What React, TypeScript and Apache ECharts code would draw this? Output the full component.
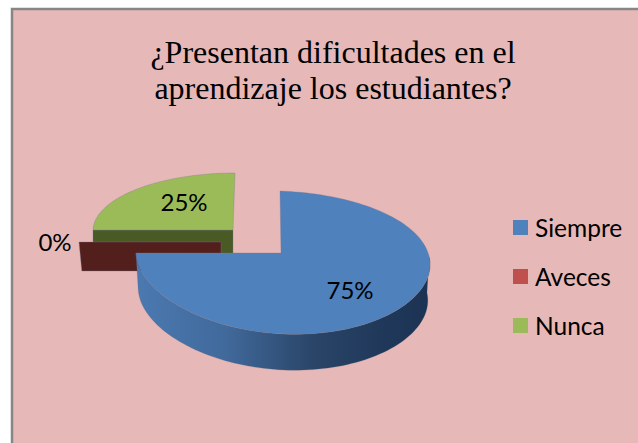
import React, { useEffect, useRef } from "react";
import * as echarts from "echarts";

const titleLines = ["¿Presentan dificultades en el", "aprendizaje los estudiantes?"];
const categories = ["Siempre", "Aveces", "Nunca"];
const values = [75, 0, 25];
const colors = ["#4f81bd", "#c0504d", "#9bbb59"];

const total = values.reduce((a, b) => a + b, 0);
const rad = (d: number) => (d * Math.PI) / 180;

type Geo = {
  apexX: number; apexY: number; cx: number; cy: number; rx: number; ry: number;
  skewX: number; skewY: number; bulge: number; depth: number; scale: number;
  wall: any; radial: string; labelX: number; labelY: number; z: number;
};

const blueWall = new echarts.graphic.LinearGradient(0, 0, 1, 0, [
  { offset: 0, color: "#4b79b0" },
  { offset: 0.3, color: "#416a9c" },
  { offset: 0.6, color: "#2a4568" },
  { offset: 0.85, color: "#1f385a" },
  { offset: 1, color: "#1c3253" },
]);

const geos: Geo[] = [
  { apexX: 281, apexY: 253, cx: 283, cy: 260.3, rx: 147, ry: 71.5, skewX: -3, skewY: 5, bulge: 2.25, depth: 36, scale: 0.985, wall: blueWall, radial: "#2f4f78", labelX: 350, labelY: 289, z: 4 },
  { apexX: 221, apexY: 242, cx: 221, cy: 242, rx: 142, ry: 57, skewX: 0, skewY: 0, bulge: 0, depth: 29, scale: 0.98, wall: "#521f1d", radial: "#521f1d", labelX: 55, labelY: 241, z: 3 },
  { apexX: 233, apexY: 230, cx: 233, cy: 230, rx: 140, ry: 57, skewX: 2, skewY: 0, bulge: 0, depth: 36, scale: 1, wall: "#4a5a25", radial: "#4a5a25", labelX: 184, labelY: 201, z: 2 },
];

function rimPoint(g: Geo, deg: number, drop = 0, scale = 1): number[] {
  const s = Math.sin(rad(deg));
  const c = Math.cos(rad(deg));
  const x = g.cx + g.rx * s + g.skewX * c;
  const y = g.cy - g.ry * c + g.skewY * s + g.bulge * Math.cos(rad(2 * deg));
  return [g.cx + (x - g.cx) * scale, y + drop];
}

function arc(g: Geo, from: number, to: number, drop = 0, scale = 1): number[][] {
  const pts: number[][] = [];
  for (let a = from; a < to; a += 2) pts.push(rimPoint(g, a, drop, scale));
  pts.push(rimPoint(g, to, drop, scale));
  return pts;
}

const edge = { stroke: "rgba(120,120,140,0.55)", lineWidth: 0.6 };

function renderSlice(index: number) {
  return (_params: any, api: any) => {
    const g = geos[index];
    const before = values.slice(0, index).reduce((a, b) => a + b, 0);
    const start = (before / total) * 360;
    const end = start + (api.value(0) / total) * 360;
    const children: any[] = [];

    const wallFrom = Math.max(start, 85);
    const wallTo = Math.min(end, 270);
    if (wallTo > wallFrom) {
      const top = arc(g, wallFrom, wallTo);
      const bottom = arc(g, wallFrom, wallTo, g.depth, g.scale).reverse();
      children.push({ type: "polygon", shape: { points: [...top, ...bottom] }, style: { fill: g.wall, stroke: "rgba(90,100,120,0.4)", lineWidth: 0.5 } });
    }
    if (start >= 180) {
      const rim = rimPoint(g, start);
      const low = rimPoint(g, start, g.depth, g.scale);
      const apex = [g.apexX, g.apexY];
      children.push({ type: "polygon", shape: { points: [apex, rim, low, [g.apexX, g.apexY + g.depth]] }, style: { fill: g.radial, ...edge } });
    }
    if (end > start) {
      children.push({ type: "polygon", shape: { points: [[g.apexX, g.apexY], ...arc(g, start, end)] }, style: { fill: colors[index], ...edge } });
    }
    children.push({
      type: "text",
      x: g.labelX,
      y: g.labelY,
      z2: 10,
      style: { text: `${Math.round((api.value(0) / total) * 100)}%`, fill: "#000", font: "24px Lato", textAlign: "center", verticalAlign: "middle" },
    });
    return { type: "group", children };
  };
}

export default function App() {
  const ref = useRef<HTMLDivElement>(null);
  useEffect(() => {
    const chart = echarts.init(ref.current!, null, { renderer: "svg" });
    chart.setOption({
      animation: false,
      backgroundColor: "#ffffff",
      title: {
        text: titleLines.join("\n"),
        left: 328,
        top: 29,
        textAlign: "center",
        textStyle: { fontFamily: "Liberation Serif", fontSize: 32, fontWeight: "normal", color: "#000", lineHeight: 36 },
      },
      legend: {
        orient: "vertical",
        left: 513,
        top: 215,
        padding: 0,
        data: categories,
        icon: "rect",
        itemWidth: 15,
        itemHeight: 15,
        itemGap: 24,
        textStyle: { fontFamily: "Lato", fontSize: 24.5, color: "#000", padding: [0, 0, 0, 2] },
        selectedMode: false,
      },
      graphic: [
        { type: "rect", z: -10, silent: true, shape: { x: 12, y: 9, width: 640, height: 450 }, style: { fill: "#e6b8b7", stroke: "#868686", lineWidth: 2.5 } },
      ],
      series: categories.map((name, i) => ({
        type: "custom",
        name,
        coordinateSystem: "none",
        z: geos[i].z,
        itemStyle: { color: colors[i] },
        data: [[values[i]]],
        renderItem: renderSlice(i),
      })),
    });
    return () => chart.dispose();
  }, []);
  return <div ref={ref} style={{ position: "absolute", left: 0, top: 0, width: 638, height: 443 }} />;
}
